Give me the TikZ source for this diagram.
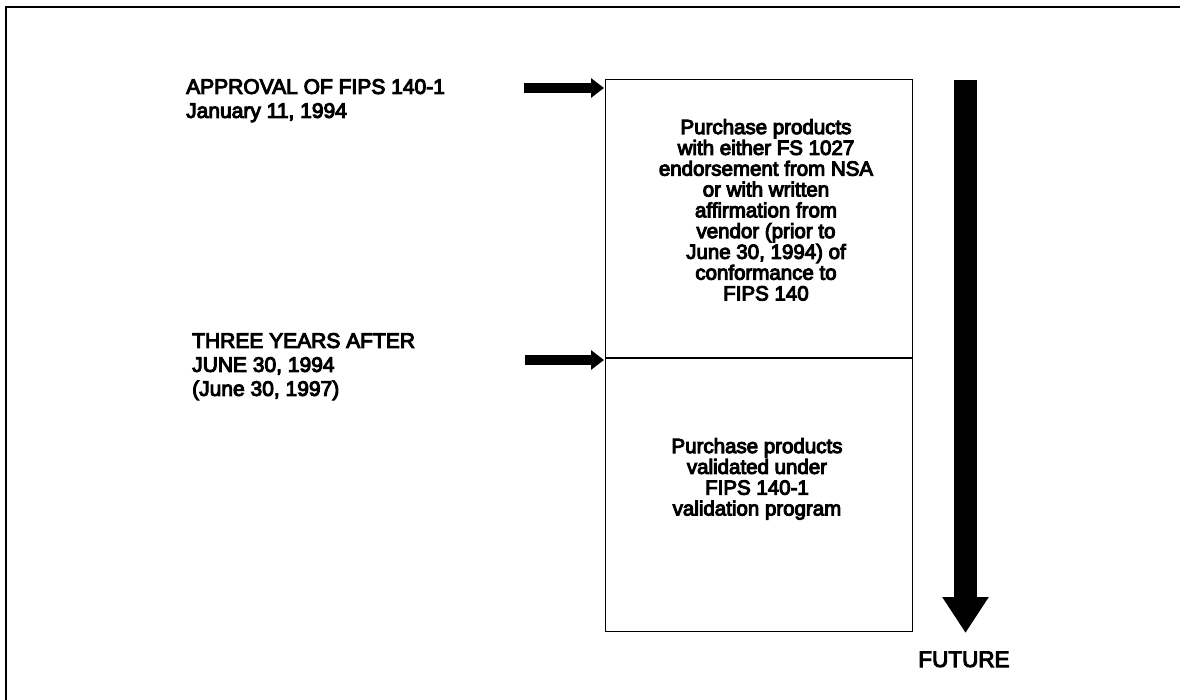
\documentclass[tikz,border=0pt]{standalone}
\usepackage{fontspec}
\setmainfont{Liberation Sans}
\newfontfamily\diagfont{Liberation Sans}
\usetikzlibrary{arrows.meta}
\newcommand\heavytext[1]{\special{pdf:literal direct 2 Tr 1.0 w}#1\special{pdf:literal direct 0 Tr}}
\tikzset{
  lbl/.style={align=left, inner sep=0pt, font=\diagfont\fontsize{21}{24}\selectfont},
  boxtext/.style={align=center, inner sep=0pt, font=\diagfont\fontsize{20.5}{20.8}\selectfont},
  smallarrow/.style={line width=10pt, -{Triangle[length=13pt,width=19pt]}},
  bigarrow/.style={line width=23pt, -{Triangle[length=36pt,width=44pt]}},
  frameline/.style={line width=2pt},
  boxline/.style={draw, line width=1pt},
}
\begin{document}
\begin{tikzpicture}[x=1pt,y=-1pt]
\useasboundingbox (0,0) rectangle (1180,700);
% frame (top and left only)
\coordinate (fbl) at (6,700);
\coordinate (ftl) at (6,7.5);
\coordinate (ftr) at (1180,7.5);
\draw[frameline] (fbl) -- (ftl) -- (ftr);
% main box
\node[boxline, minimum width=307pt, minimum height=551pt, inner sep=0pt] (box) at (758.5,355.5) {};
\coordinate (divl) at (606,358);
\coordinate (divr) at (912,358);
\draw[line width=2pt] (divl) -- (divr);
% box texts
\node[boxtext, anchor=north] (txa) at (766,119) {\heavytext{Purchase products\\with either FS 1027\\endorsement from NSA\\or with written\\affirmation from\\vendor (prior to\\June 30, 1994) of\\conformance to\\FIPS 140}};
\node[boxtext, anchor=north] (txb) at (757,438) {\heavytext{Purchase products\\validated under\\FIPS 140-1\\validation program}};
% left labels
\node[lbl, anchor=north west] (t1) at (186,79) {\heavytext{APPROVAL OF FIPS 140-1\\January 11, 1994}};
\node[lbl, anchor=north west] (t2) at (192,333) {\heavytext{THREE YEARS AFTER\\JUNE 30, 1994\\(June 30, 1997)}};
\node[lbl, anchor=base, font=\diagfont\fontsize{22.5}{24}\selectfont] (fut) at (964,667) {\heavytext{FUTURE}};
% small arrows
\coordinate (a1s) at (524,88);
\coordinate (a1e) at (604,88);
\coordinate (a2s) at (525,360);
\coordinate (a2e) at (604,360);
\draw[smallarrow] (a1s) -- (a1e);
\draw[smallarrow] (a2s) -- (a2e);
% big arrow
\coordinate (fs) at (965.5,80);
\coordinate (fe) at (965.5,633);
\draw[bigarrow] (fs) -- (fe);
\end{tikzpicture}
\end{document}
